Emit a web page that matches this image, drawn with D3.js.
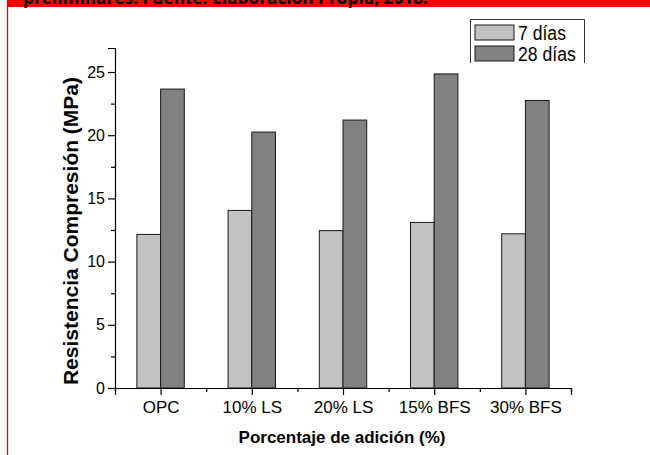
<!DOCTYPE html>
<html>
<head>
<meta charset="utf-8">
<script src="https://cdn.jsdelivr.net/npm/d3@7"></script>
<style>
  body { margin: 0; background: #fff; }
  text { font-family: Arial, "Liberation Sans", sans-serif; fill: #000; }
</style>
</head>
<body>
<div id="chart"></div>
<script>
var w = 650, h = 455;

// data
var categories = ["OPC", "10% LS", "20% LS", "15% BFS", "30% BFS"];
var dias7 = [12.15, 14.05, 12.45, 13.1, 12.2];
var dias28 = [23.65, 20.25, 21.2, 24.85, 22.75];
var seriesNames = ["7 días", "28 días"];
var yTicks = [0, 5, 10, 15, 20, 25];
var yMinor = [2.5, 7.5, 12.5, 17.5, 22.5];

var colors = ["#c2c2c2", "#818181"];

var svg = d3.select("#chart").append("svg")
  .attr("width", w).attr("height", h);

// red page strip + margin line of the source document
svg.append("rect").attr("x", 7).attr("y", 0).attr("width", w - 7).attr("height", 7)
  .attr("fill", "#ff0000");
svg.append("line").attr("x1", 7.5).attr("x2", 7.5).attr("y1", 0).attr("y2", h)
  .attr("stroke", "#e00000").attr("stroke-width", 1.3);
svg.append("text").attr("x", 23).attr("y", 4)
  .style("font-family", "'Open Sans', sans-serif")
  .style("font-size", "18px").style("font-weight", "bold")
  .attr("textLength", 405).attr("lengthAdjust", "spacingAndGlyphs")
  .text("preliminares. Fuente: Elaboración Propia, 2018.");

var x = d3.scaleLinear().domain([0.5, 5.5]).range([115, 571]);
var y = d3.scaleLinear().domain([0, 26.9]).range([388, 48]);
var bw = 0.26;

var g = svg.append("g");

// bars
var series = [dias7, dias28];
series.forEach(function(vals, s) {
  g.selectAll("rect.s" + s)
    .data(vals).enter()
    .append("rect")
    .attr("class", "s" + s)
    .attr("x", function(d, i) { return s == 0 ? x(i + 1 - bw) : x(i + 1); })
    .attr("width", x(1 + bw) - x(1))
    .attr("y", function(d) { return y(d); })
    .attr("height", function(d) { return y(0) - y(d); })
    .attr("fill", colors[s])
    .attr("stroke", "#1a1a1a").attr("stroke-width", 1);
});

// y axis
var yAxis = g.append("g").attr("transform", "translate(115,0)")
  .call(d3.axisLeft(y).tickValues(yTicks).tickSize(7).tickPadding(3).tickFormat(d3.format("d")));
g.append("g").attr("transform", "translate(115,0)")
  .call(d3.axisLeft(y).tickValues(yMinor).tickSize(4).tickFormat(""))
  .select(".domain").remove();

// x axis
var xAxis = g.append("g").attr("transform", "translate(0,388)")
  .call(d3.axisBottom(x).tickValues([1, 2, 3, 4, 5]).tickSize(7).tickPadding(6)
    .tickFormat(function(d) { return categories[d - 1]; }));
g.append("g").attr("transform", "translate(0,388)")
  .call(d3.axisBottom(x).tickValues([0.5, 1.5, 2.5, 3.5, 4.5, 5.5]).tickSize(4).tickFormat(""))
  .select(".domain").remove();

svg.selectAll(".domain").attr("stroke", "#000").attr("stroke-width", 1.2);
svg.selectAll(".tick line").attr("stroke", "#000").attr("stroke-width", 1.2);
svg.selectAll(".tick text").style("font-family", "Arial, 'Liberation Sans', sans-serif").attr("fill", "#000");
yAxis.selectAll("text").style("font-size", "16px");
xAxis.selectAll("text").style("font-size", "17px");

// axis titles
svg.append("text").attr("x", 342).attr("y", 443).attr("text-anchor", "middle")
  .style("font-size", "17px").style("font-weight", "bold")
  .text("Porcentaje de adición (%)");
svg.append("text").attr("transform", "translate(78,231) rotate(-90)")
  .attr("text-anchor", "middle")
  .style("font-size", "21px").style("font-weight", "bold")
  .text("Resistencia Compresión (MPa)");

// legend (box open at the bottom as in the source)
var leg = svg.append("g");
leg.append("path").attr("d", "M470.5,63 V19.5 H584.5 V63")
  .attr("fill", "none").attr("stroke", "#333").attr("stroke-width", 1);
seriesNames.forEach(function(name, i) {
  var yy = 25 + i * 21;
  leg.append("rect").attr("x", 475).attr("y", yy).attr("width", 39).attr("height", 15)
    .attr("fill", colors[i]).attr("stroke", "#1a1a1a").attr("stroke-width", 1);
  var t = leg.append("text").attr("x", 518).attr("y", yy + 14.5)
    .style("font-size", "20px").text(name);
  var len = t.node().getComputedTextLength();
  t.attr("textLength", len * 0.88).attr("lengthAdjust", "spacingAndGlyphs");
});
</script>
</body>
</html>
